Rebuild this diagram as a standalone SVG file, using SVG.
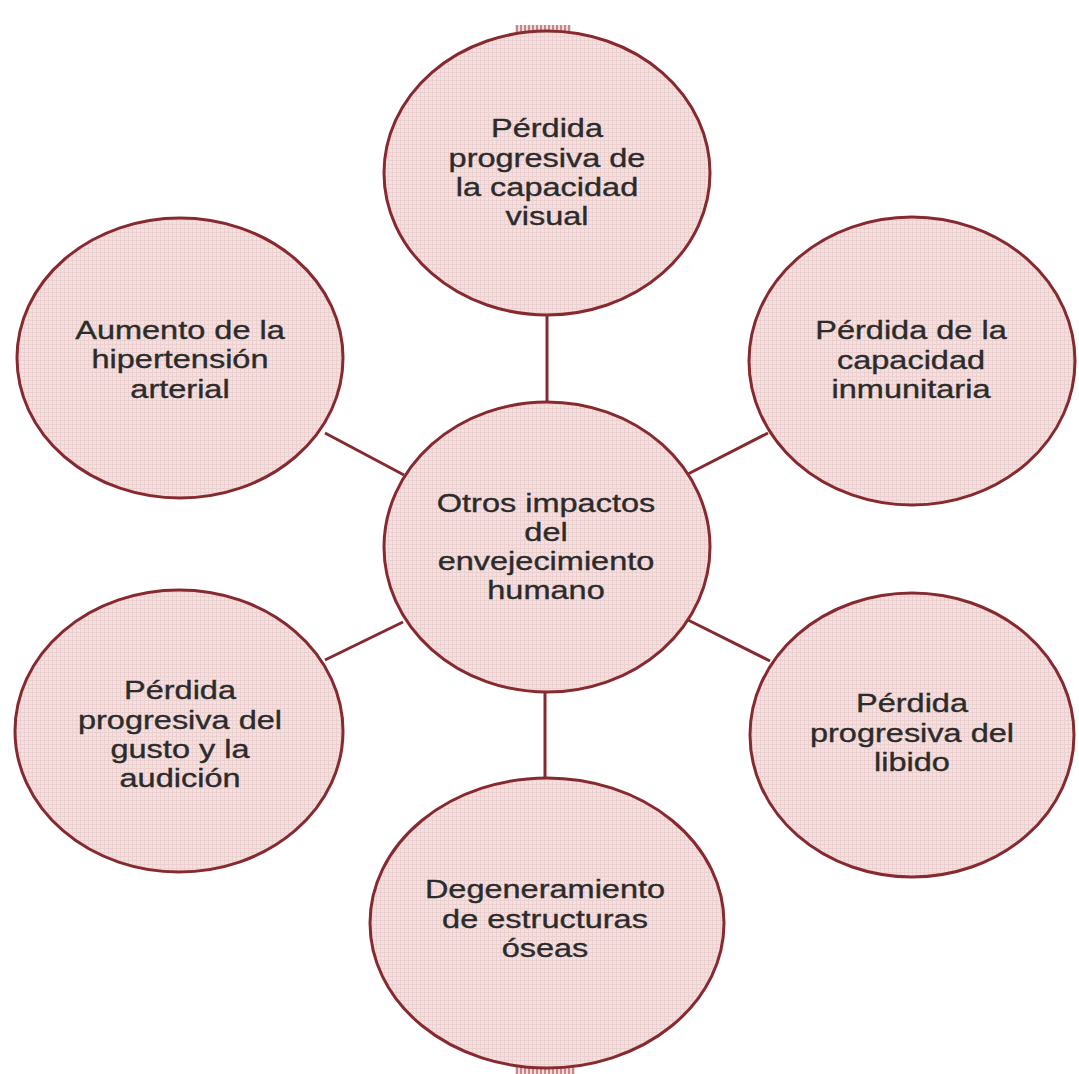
<svg xmlns="http://www.w3.org/2000/svg" width="1079" height="1074" viewBox="0 0 1079 1074">
<defs>
<pattern id="grid" width="4" height="4" patternUnits="userSpaceOnUse">
<rect width="4" height="4" fill="#f4e0e0"/>
<path d="M0 0.5H4M0.5 0V4" stroke="#ecd0d0" stroke-width="1"/>
</pattern>
<pattern id="hatch" width="4" height="8" patternUnits="userSpaceOnUse">
<rect width="4" height="8" fill="#f3dada"/>
<path d="M1 0V8" stroke="#b86a6e" stroke-width="1.5"/>
</pattern>
<style>
.node ellipse{fill:url(#grid);stroke:#862a30;stroke-width:3}
.conn line{stroke:#862a30;stroke-width:3}
.lbl{font-family:"Liberation Sans",Arial,sans-serif;font-size:25px;fill:#2b2b2b;stroke:#2b2b2b;stroke-width:0.35;text-anchor:middle}
</style>
</defs>
<rect width="1079" height="1074" fill="#fff"/>
<rect x="515" y="25" width="56" height="8" fill="url(#hatch)"/>
<rect x="515" y="1066" width="60" height="8" fill="url(#hatch)"/>
<g id="connectors" class="conn">
<line x1="547" y1="315" x2="547" y2="404"/>
<line x1="545" y1="691" x2="545" y2="779"/>
<line x1="325" y1="433" x2="404" y2="475"/>
<line x1="768" y1="433" x2="688" y2="474"/>
<line x1="325" y1="660" x2="403" y2="622"/>
<line x1="770" y1="661" x2="688" y2="620"/>
</g>
<g id="top" class="node">
<ellipse cx="547" cy="173" rx="163" ry="142"/>
<g transform="translate(547,0) scale(1.3,1)"><text class="lbl"><tspan x="0" y="137">Pérdida</tspan><tspan x="0" y="167">progresiva de</tspan><tspan x="0" y="196">la capacidad</tspan><tspan x="0" y="225">visual</tspan></text></g>
</g>
<g id="topleft" class="node">
<ellipse cx="180" cy="358" rx="163" ry="140"/>
<g transform="translate(180,0) scale(1.3,1)"><text class="lbl"><tspan x="0" y="339">Aumento de la</tspan><tspan x="0" y="368">hipertensión</tspan><tspan x="0" y="398">arterial</tspan></text></g>
</g>
<g id="topright" class="node">
<ellipse cx="912" cy="361" rx="163" ry="144"/>
<g transform="translate(911,0) scale(1.3,1)"><text class="lbl"><tspan x="0" y="339">Pérdida de la</tspan><tspan x="0" y="369">capacidad</tspan><tspan x="0" y="398">inmunitaria</tspan></text></g>
</g>
<g id="center" class="node">
<ellipse cx="547" cy="547" rx="163" ry="145"/>
<g transform="translate(546,0) scale(1.3,1)"><text class="lbl"><tspan x="0" y="512">Otros impactos</tspan><tspan x="0" y="541">del</tspan><tspan x="0" y="570">envejecimiento</tspan><tspan x="0" y="599">humano</tspan></text></g>
</g>
<g id="bottomleft" class="node">
<ellipse cx="179" cy="731" rx="164" ry="141"/>
<g transform="translate(180,0) scale(1.3,1)"><text class="lbl"><tspan x="0" y="699">Pérdida</tspan><tspan x="0" y="729">progresiva del</tspan><tspan x="0" y="758">gusto y la</tspan><tspan x="0" y="787">audición</tspan></text></g>
</g>
<g id="bottomright" class="node">
<ellipse cx="912" cy="735" rx="162" ry="142"/>
<g transform="translate(912,0) scale(1.3,1)"><text class="lbl"><tspan x="0" y="712">Pérdida</tspan><tspan x="0" y="742">progresiva del</tspan><tspan x="0" y="771">libido</tspan></text></g>
</g>
<g id="bottom" class="node">
<ellipse cx="547" cy="923" rx="177" ry="145"/>
<g transform="translate(545,0) scale(1.3,1)"><text class="lbl"><tspan x="0" y="898">Degeneramiento</tspan><tspan x="0" y="928">de estructuras</tspan><tspan x="0" y="957">óseas</tspan></text></g>
</g>
</svg>
